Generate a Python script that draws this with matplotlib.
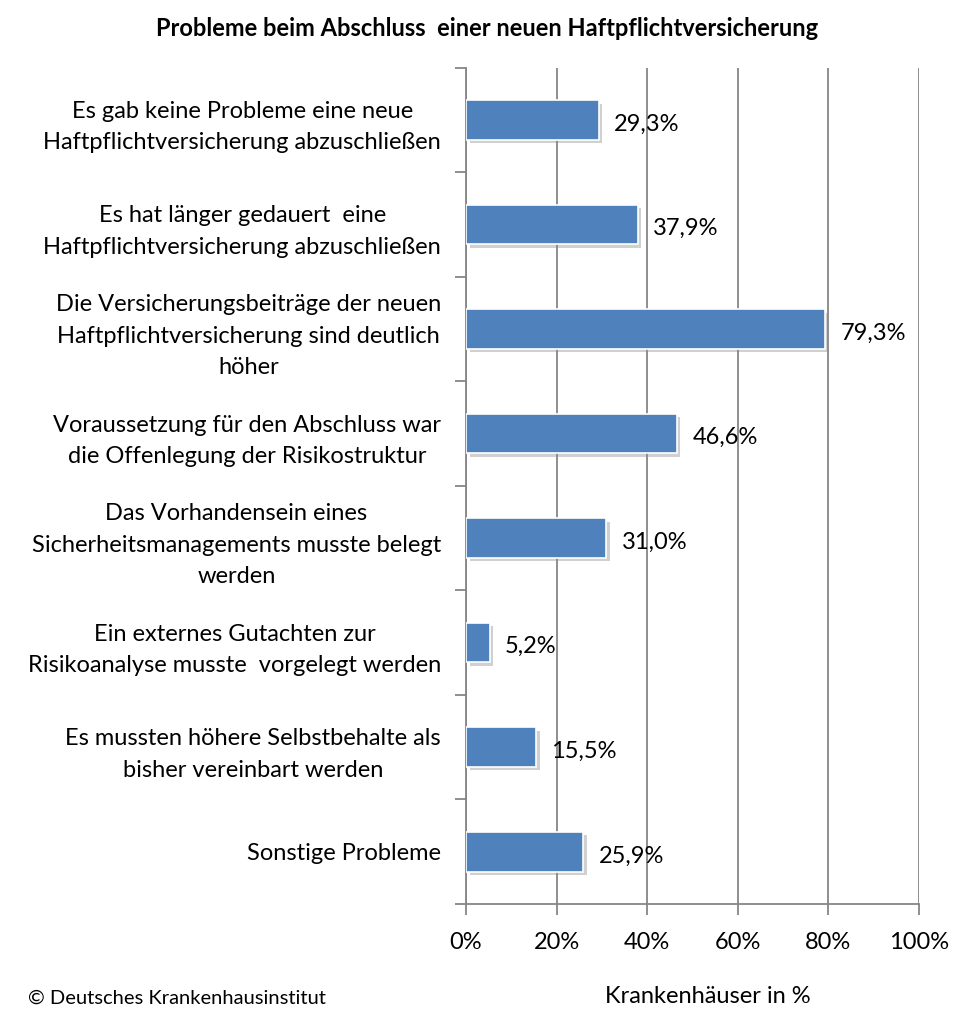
import matplotlib
matplotlib.use("Agg")
import matplotlib.pyplot as plt
import matplotlib.patheffects as pe
from matplotlib.ticker import FuncFormatter, MultipleLocator

categories = [
    "Es gab keine Probleme eine neue\nHaftpflichtversicherung abzuschließen",
    "Es hat länger gedauert  eine\nHaftpflichtversicherung abzuschließen",
    "Die Versicherungsbeiträge der neuen\nHaftpflichtversicherung sind deutlich\nhöher",
    "Voraussetzung für den Abschluss war\ndie Offenlegung der Risikostruktur",
    "Das Vorhandensein eines\nSicherheitsmanagements musste belegt\nwerden",
    "Ein externes Gutachten zur\nRisikoanalyse musste  vorgelegt werden",
    "Es mussten höhere Selbstbehalte als\nbisher vereinbart werden",
    "Sonstige Probleme",
]
values = [29.3, 37.9, 79.3, 46.6, 31.0, 5.2, 15.5, 25.9]

title = "Probleme beim Abschluss  einer neuen Haftpflichtversicherung"
xlabel = "Krankenhäuser in %"
source = "© Deutsches Krankenhausinstitut"

plt.rcParams["font.family"] = ["Lato", "DejaVu Sans"]

fig = plt.figure(figsize=(9.55, 10.1), dpi=100)
ax = fig.add_axes([0.488, 0.105, 0.474, 0.828])

n = len(categories)
ypos = list(range(n))
bars = ax.barh(ypos, values, height=0.38, color="#4F81BD", edgecolor="white",
               linewidth=1.2, zorder=3)
for b in bars:
    b.set_path_effects([pe.SimplePatchShadow(offset=(2.5, -2.5), shadow_rgbFace="#8a8a8a",
                                             alpha=0.4), pe.Normal()])

ax.set_xlim(0, 100)
ax.set_ylim(n - 0.5, -0.5)
ax.xaxis.set_major_locator(MultipleLocator(20))
ax.xaxis.set_major_formatter(FuncFormatter(lambda v, p: f"{int(v)}%"))
ax.grid(axis="x", color="#868686", linewidth=1.3, zorder=0)
ax.set_axisbelow(True)

for s in ["top", "right"]:
    ax.spines[s].set_visible(False)
for s in ["left", "bottom"]:
    ax.spines[s].set_color("#868686")
    ax.spines[s].set_linewidth(1.3)

# category separators as minor ticks on the y axis
ax.set_yticks([i - 0.5 for i in range(n + 1)], minor=True)
ax.set_yticks(ypos)
ax.set_yticklabels(categories, fontsize=17, linespacing=1.62)
ax.tick_params(axis="y", which="major", length=0, pad=18)
ax.tick_params(axis="y", which="minor", length=8, width=1.3, color="#868686")
ax.tick_params(axis="x", length=8, width=1.3, color="#868686", labelsize=17, pad=12,
               direction="out")
for lbl in ax.get_yticklabels():
    lbl.set_horizontalalignment("right")
    lbl.set_multialignment("center")

for y, v in zip(ypos, values):
    ax.annotate(f"{v:.1f}%".replace(".", ","), xy=(v, y), xytext=(11, -3),
                textcoords="offset points", va="center", ha="left", fontsize=17,
                color="black", zorder=4)

fig.text(0.51, 0.972, title, ha="center", va="center", fontsize=17, fontweight="bold")
fig.text(0.029, 0.003, source, ha="left", va="bottom", fontsize=14.5)
fig.text(0.741, 0.003, xlabel, ha="center", va="bottom", fontsize=17)

fig.savefig("out.png", dpi=100)
